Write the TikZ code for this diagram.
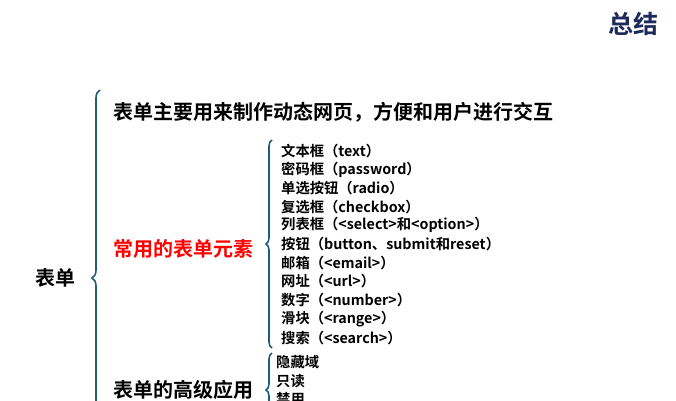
\documentclass[tikz,border=0pt]{standalone}
\usepackage{fontspec}
\setmainfont{Noto Sans CJK SC}[BoldFont={* Bold}]
\usetikzlibrary{decorations.pathreplacing}
\definecolor{brc}{HTML}{1F5C7A}
\definecolor{ttl}{HTML}{1F2A5C}
\tikzset{
 br/.style={draw=brc,line width=1.6pt,decorate,decoration={brace,mirror,amplitude=6pt}},
 big/.style={anchor=west,font=\bfseries\fontsize{20}{20}\selectfont,inner sep=0},
 item/.style={anchor=west,font=\bfseries\fontsize{14.3}{15}\selectfont,inner sep=0}
}
\begin{document}
\begin{tikzpicture}[x=1pt,y=-1pt]
\useasboundingbox (0,0) rectangle (676,400);
\clip (0,0) rectangle (676,400);
\node[font=\bfseries\fontsize{25}{25}\selectfont,text=ttl] (t) at (633,24) {总结};
\node[anchor=west,font=\bfseries\fontsize{20}{20}\selectfont,inner sep=0] (root) at (35,278) {表单};
\coordinate (b1t) at (100,90); \coordinate (b1b) at (100,466);
\draw[br,decoration={amplitude=8pt}] (b1t) -- (b1b);
\node[big] (a) at (113,112) {表单主要用来制作动态网页，方便和用户进行交互};
\node[big,text=red] (b) at (113,249) {常用的表单元素};
\node[big] (c) at (113,390) {表单的高级应用};
\coordinate (b2t) at (272,140); \coordinate (b2b) at (272,348);
\draw[br] (b2t) -- (b2b);
\foreach \y/\t [count=\i] in {151/文本框（text）,170/密码框（password）,188/单选按钮（radio）,207/复选框（checkbox）,225/{列表框（<select>和<option>）},244/{按钮（button、submit和reset）},263/邮箱（<email>）,281/网址（<url>）,300/数字（<number>）,319/滑块（<range>）,338/搜索（<search>）}
  \node[item] (i\i) at (281,\y) {\t};
\coordinate (b3t) at (272,353); \coordinate (b3b) at (272,427);
\draw[br] (b3t) -- (b3b);
\node[item] (h1) at (276,362) {隐藏域};
\node[item] (h2) at (276,381) {只读};
\node[item] (h3) at (276,399) {禁用};
\end{tikzpicture}
\end{document}
